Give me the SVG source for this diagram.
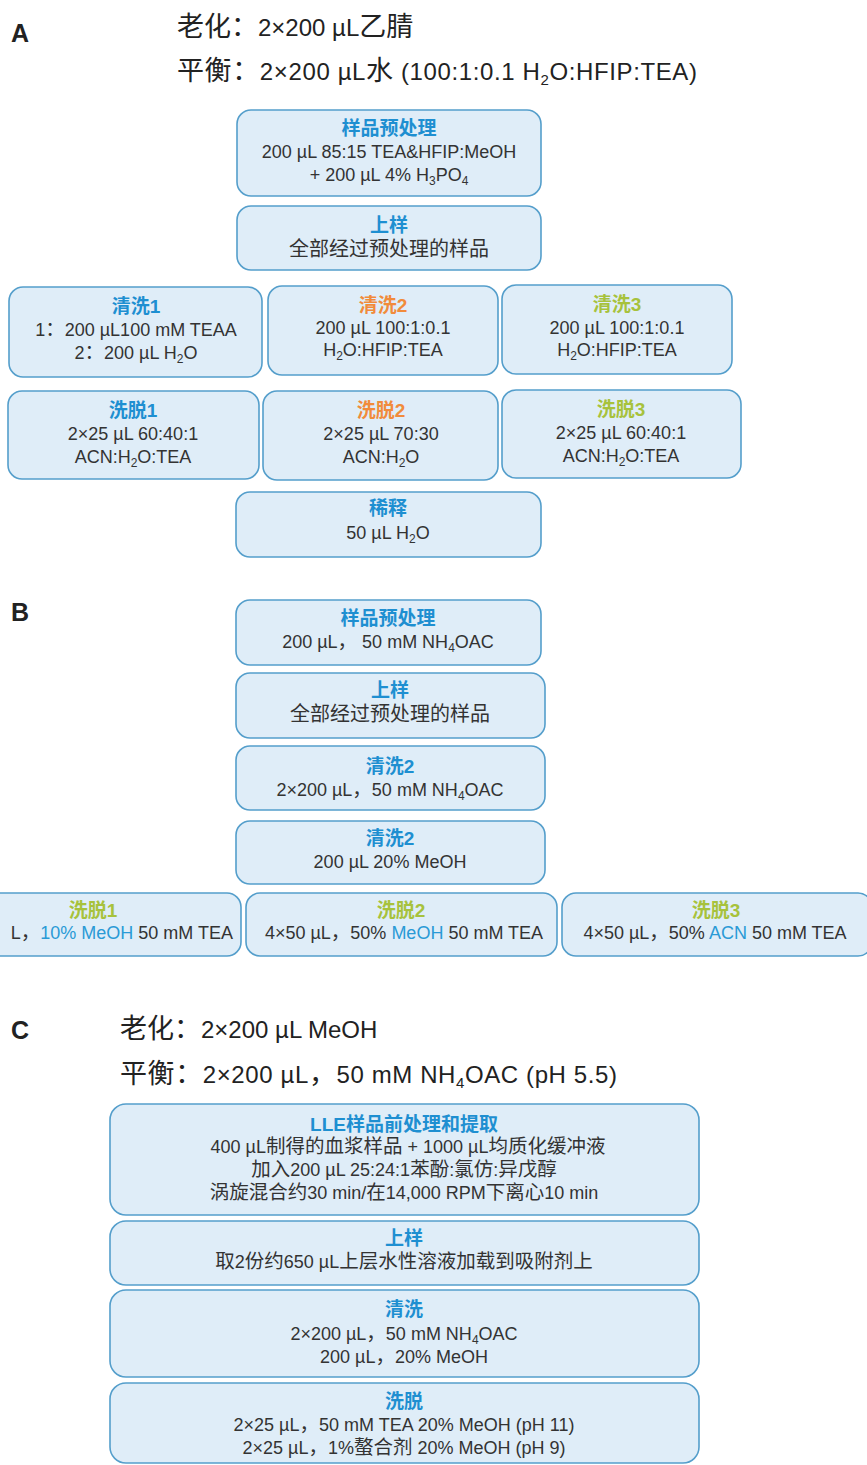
<svg xmlns="http://www.w3.org/2000/svg" width="867" height="1465" viewBox="0 0 867 1465">
<style>
text{font-family:"Liberation Sans","Noto Sans CJK SC",sans-serif}
.bg{fill:#ffffff}
.box{fill:#dfedf8;stroke:#549ecb;stroke-width:1.6}
.t{font-size:19px;font-weight:bold;text-anchor:middle}
.tb{fill:#1e8fd1}.to{fill:#f18b3b}.tg{fill:#a7c23c}
.b{font-size:18px;fill:#333;text-anchor:middle}
.k{font-size:19.5px}
.h{font-size:24px;fill:#222}
.hk{font-size:27px}
.lab{font-size:25px;font-weight:bold;fill:#222}
.sub{font-size:12px}
.hsub{font-size:15px}
.hl{fill:#2a9ad6}
</style>
<rect class="bg" x="0" y="0" width="867" height="1465"/>
<g id="connectors"/>

<g id="sectionA-header">
<text class="lab" x="11" y="42">A</text>
<text class="h" x="177" y="36"><tspan class="hk">老化：</tspan>2×200 µL<tspan class="hk">乙腈</tspan></text>
<text class="h" x="177" y="80" textLength="520"><tspan class="hk">平衡：</tspan>2×200 µL<tspan class="hk">水</tspan> (100:1:0.1 H<tspan class="hsub" dy="5">2</tspan><tspan dy="-5">O:HFIP:TEA)</tspan></text>
</g>

<g id="A-pretreat">
<rect class="box" x="237" y="110" width="304" height="86" rx="14"/>
<text class="t tb" x="389" y="135">样品预处理</text>
<text class="b" x="389" y="158">200 µL 85:15 TEA&amp;HFIP:MeOH</text>
<text class="b" x="389" y="181">+ 200 µL 4% H<tspan class="sub" dy="4">3</tspan><tspan dy="-4">PO</tspan><tspan class="sub" dy="4">4</tspan></text>
</g>

<g id="A-load">
<rect class="box" x="237" y="206" width="304" height="64" rx="14"/>
<text class="t tb" x="389" y="232">上样</text>
<text class="b" x="389" y="256" style="font-size:20px">全部经过预处理的样品</text>
</g>

<g id="A-wash1">
<rect class="box" x="9" y="287" width="253" height="90" rx="14"/>
<text class="t tb" x="136" y="313">清洗1</text>
<text class="b" x="136" y="336">1<tspan class="k">：</tspan>200 µL100 mM TEAA</text>
<text class="b" x="136" y="359">2<tspan class="k">：</tspan>200 µL H<tspan class="sub" dy="4">2</tspan><tspan dy="-4">O</tspan></text>
</g>

<g id="A-wash2">
<rect class="box" x="268" y="286" width="230" height="89" rx="14"/>
<text class="t to" x="383" y="312">清洗2</text>
<text class="b" x="383" y="334">200 µL 100:1:0.1</text>
<text class="b" x="383" y="356">H<tspan class="sub" dy="4">2</tspan><tspan dy="-4">O:HFIP:TEA</tspan></text>
</g>

<g id="A-wash3">
<rect class="box" x="502" y="285" width="230" height="89" rx="14"/>
<text class="t tg" x="617" y="311">清洗3</text>
<text class="b" x="617" y="334">200 µL 100:1:0.1</text>
<text class="b" x="617" y="356">H<tspan class="sub" dy="4">2</tspan><tspan dy="-4">O:HFIP:TEA</tspan></text>
</g>

<g id="A-elute1">
<rect class="box" x="8" y="391" width="251" height="88" rx="14"/>
<text class="t tb" x="133" y="417">洗脱1</text>
<text class="b" x="133" y="440">2×25 µL 60:40:1</text>
<text class="b" x="133" y="463">ACN:H<tspan class="sub" dy="4">2</tspan><tspan dy="-4">O:TEA</tspan></text>
</g>

<g id="A-elute2">
<rect class="box" x="263" y="391" width="235" height="89" rx="14"/>
<text class="t to" x="381" y="417">洗脱2</text>
<text class="b" x="381" y="440">2×25 µL 70:30</text>
<text class="b" x="381" y="463">ACN:H<tspan class="sub" dy="4">2</tspan><tspan dy="-4">O</tspan></text>
</g>

<g id="A-elute3">
<rect class="box" x="502" y="390" width="239" height="88" rx="14"/>
<text class="t tg" x="621" y="416">洗脱3</text>
<text class="b" x="621" y="439">2×25 µL 60:40:1</text>
<text class="b" x="621" y="462">ACN:H<tspan class="sub" dy="4">2</tspan><tspan dy="-4">O:TEA</tspan></text>
</g>

<g id="A-dilute">
<rect class="box" x="236" y="492" width="305" height="65" rx="14"/>
<text class="t tb" x="388" y="515">稀释</text>
<text class="b" x="388" y="539">50 µL H<tspan class="sub" dy="4">2</tspan><tspan dy="-4">O</tspan></text>
</g>

<g id="sectionB-header">
<text class="lab" x="11" y="621">B</text>
</g>

<g id="B-pretreat">
<rect class="box" x="236" y="600" width="305" height="65" rx="14"/>
<text class="t tb" x="388" y="625">样品预处理</text>
<text class="b" x="388" y="648">200 µL<tspan class="k">，</tspan> 50 mM NH<tspan class="sub" dy="4">4</tspan><tspan dy="-4">OAC</tspan></text>
</g>

<g id="B-load">
<rect class="box" x="236" y="673" width="309" height="65" rx="14"/>
<text class="t tb" x="390" y="697">上样</text>
<text class="b" x="390" y="721" style="font-size:20px">全部经过预处理的样品</text>
</g>

<g id="B-wash2a">
<rect class="box" x="236" y="746" width="309" height="64" rx="14"/>
<text class="t tb" x="390" y="773">清洗2</text>
<text class="b" x="390" y="796">2×200 µL<tspan class="k">，</tspan>50 mM NH<tspan class="sub" dy="4">4</tspan><tspan dy="-4">OAC</tspan></text>
</g>

<g id="B-wash2b">
<rect class="box" x="236" y="821" width="309" height="63" rx="14"/>
<text class="t tb" x="390" y="845">清洗2</text>
<text class="b" x="390" y="868">200 µL 20% MeOH</text>
</g>

<g id="B-elute1">
<rect class="box" x="-70" y="893" width="311" height="63" rx="14"/>
<text class="t tg" x="93" y="917">洗脱1</text>
<text class="b" x="233" y="939" style="text-anchor:end">L<tspan class="k">，</tspan><tspan class="hl">10% MeOH</tspan> 50 mM TEA</text>
</g>

<g id="B-elute2">
<rect class="box" x="246" y="893" width="311" height="63" rx="14"/>
<text class="t tg" x="401" y="917">洗脱2</text>
<text class="b" x="404" y="939">4×50 µL<tspan class="k">，</tspan>50% <tspan class="hl">MeOH</tspan> 50 mM TEA</text>
</g>

<g id="B-elute3">
<rect class="box" x="562" y="893" width="310" height="63" rx="14"/>
<text class="t tg" x="716" y="917">洗脱3</text>
<text class="b" x="715" y="939">4×50 µL<tspan class="k">，</tspan>50% <tspan class="hl">ACN</tspan> 50 mM TEA</text>
</g>

<g id="sectionC-header">
<text class="lab" x="11" y="1039">C</text>
<text class="h" x="120" y="1038"><tspan class="hk">老化：</tspan>2×200 µL MeOH</text>
<text class="h" x="120" y="1083" textLength="497"><tspan class="hk">平衡：</tspan>2×200 µL<tspan class="hk">，</tspan>50 mM NH<tspan class="hsub" dy="5">4</tspan><tspan dy="-5">OAC (pH 5.5)</tspan></text>
</g>

<g id="C-lle">
<rect class="box" x="110" y="1104" width="589" height="111" rx="16"/>
<text class="t tb" x="404" y="1131">LLE样品前处理和提取</text>
<text class="b" x="408" y="1153">400 µL<tspan class="k">制得的血浆样品</tspan> + 1000 µL<tspan class="k">均质化缓冲液</tspan></text>
<text class="b" x="404" y="1176"><tspan class="k">加入</tspan>200 µL 25:24:1<tspan class="k">苯酚</tspan>:<tspan class="k">氯仿</tspan>:<tspan class="k">异戊醇</tspan></text>
<text class="b" x="404" y="1199"><tspan class="k">涡旋混合约</tspan>30 min/<tspan class="k">在</tspan>14,000 RPM<tspan class="k">下离心</tspan>10 min</text>
</g>

<g id="C-load">
<rect class="box" x="110" y="1221" width="589" height="64" rx="16"/>
<text class="t tb" x="404" y="1245">上样</text>
<text class="b" x="404" y="1268"><tspan class="k">取</tspan>2<tspan class="k">份约</tspan>650 µL<tspan class="k">上层水性溶液加载到吸附剂上</tspan></text>
</g>

<g id="C-wash">
<rect class="box" x="110" y="1290" width="589" height="87" rx="16"/>
<text class="t tb" x="404" y="1316">清洗</text>
<text class="b" x="404" y="1340">2×200 µL<tspan class="k">，</tspan>50 mM NH<tspan class="sub" dy="4">4</tspan><tspan dy="-4">OAC</tspan></text>
<text class="b" x="404" y="1363">200 µL<tspan class="k">，</tspan>20% MeOH</text>
</g>

<g id="C-elute">
<rect class="box" x="110" y="1383" width="589" height="80" rx="16"/>
<text class="t tb" x="404" y="1408">洗脱</text>
<text class="b" x="404" y="1431">2×25 µL<tspan class="k">，</tspan>50 mM TEA 20% MeOH (pH 11)</text>
<text class="b" x="404" y="1454">2×25 µL<tspan class="k">，</tspan>1%<tspan class="k">螯合剂</tspan> 20% MeOH (pH 9)</text>
</g>
</svg>
